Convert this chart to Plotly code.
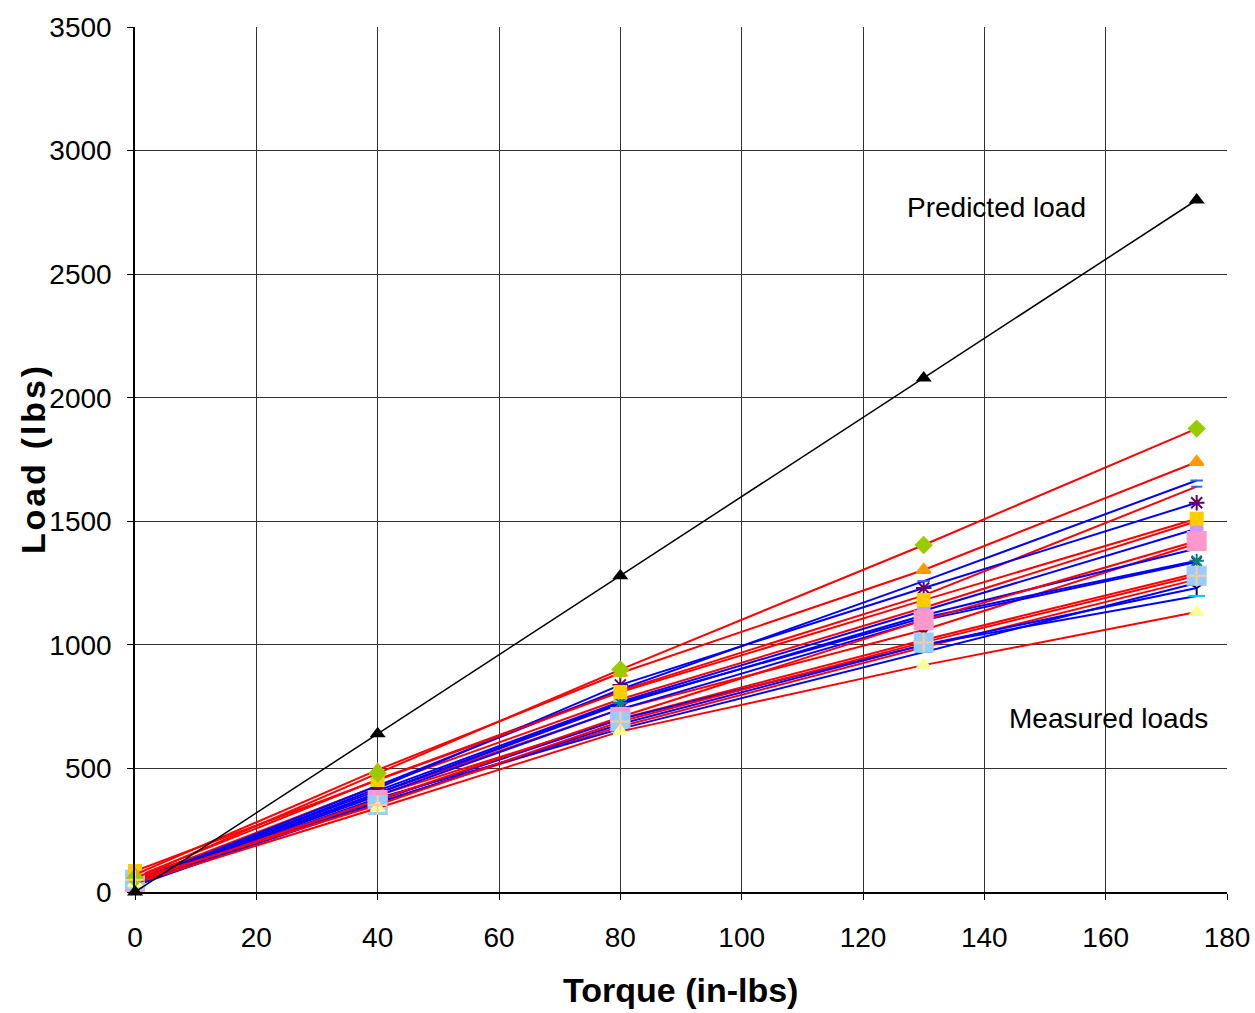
import plotly.graph_objects as go

torque = [0, 40, 80, 130, 175]
predicted = [0, 640, 1280, 2080, 2800]

# measured load series
m_green   = [55, 480, 900, 1404, 1875]
m_orange  = [70, 494, 886, 1303, 1740]
m_red3    = [60, 455, 815, 1200, 1640]
m_yellow  = [85, 453, 809, 1181, 1510]
m_magenta = [50, 430, 780, 1150, 1500]
m_pink    = [40, 372, 708, 1100, 1420]
m_darkred = [45, 400, 740, 1060, 1410]
m_red8    = [60, 390, 700, 1020, 1290]
m_ltblue  = [50, 352, 690, 1010, 1280]
m_red10   = [40, 362, 670, 990, 1265]
m_ltyel   = [35, 340, 650, 918, 1133]

b_blue    = [40, 430, 820, 1258, 1665]
b_purple  = [35, 420, 838, 1230, 1575]
b_3       = [45, 410, 770, 1140, 1470]
b_4       = [40, 400, 760, 1120, 1390]
b_teal    = [30, 400, 765, 1110, 1340]
b_6       = [35, 390, 740, 1100, 1335]
b_tealdash= [30, 380, 660, 971, 1250]
b_navy    = [25, 370, 700, 1000, 1230]
b_cyan    = [30, 360, 680, 1000, 1198]

series = [
    (m_red10, "red", "circle", "rgba(0,0,0,0)", 1),
    (m_red8, "red", "circle", "rgba(0,0,0,0)", 1),
    (m_darkred, "red", "triangle-down", "#800000", 9),
    (m_magenta, "red", "square", "#FF00FF", 10),
    (m_red3, "red", "line-ew", "#3366FF", 8),
    (b_3, "blue", "circle", "#CC99FF", 12),
    (b_4, "blue", "circle", "rgba(0,0,0,0)", 1),
    (b_6, "blue", "x-thin", "#660066", 10),
    (b_navy, "blue", "y-down-open", "#000080", 10),
    (b_cyan, "blue", "line-ew", "#00CCFF", 12),
    (b_tealdash, "blue", "line-ew", "#33CCCC", 12),
    (b_teal, "blue", "asterisk-open", "#008080", 12),
    (b_purple, "blue", "asterisk-open", "#660066", 13),
    (b_blue, "blue", "line-ew", "#3366FF", 9),
    (m_pink, "red", "square", "#FF99CC", 18),
    (m_ltblue, "red", "square", "#99CCFF", 18),
    (m_yellow, "red", "square", "#FFCC00", 12),
    (m_ltyel, "red", "triangle-up", "#FFFF99", 12),
    (m_orange, "red", "triangle-up", "#FF9900", 12),
    (m_green, "red", "diamond", "#99CC00", 12),
]

fig = go.Figure()
for vals, lc, sym, mc, ms in series:
    fig.add_trace(go.Scatter(
        x=torque, y=vals, mode="lines+markers",
        line=dict(color=lc, width=2),
        marker=dict(symbol=sym, color=mc, size=ms,
                    line=dict(color=mc, width=2)),
        showlegend=False, cliponaxis=False))

# plus on light-blue squares
fig.add_trace(go.Scatter(x=torque, y=m_ltblue, mode="markers",
                         marker=dict(symbol="cross-thin", size=14,
                                     line=dict(color="#FFCC99", width=2)),
                         showlegend=False, cliponaxis=False))

fig.add_trace(go.Scatter(
    x=torque, y=predicted, mode="lines+markers",
    line=dict(color="black", width=1.5),
    marker=dict(symbol="triangle-up", color="black", size=14),
    showlegend=False, cliponaxis=False))

font = "Liberation Sans Narrow, Liberation Sans, Arial"

W, H = 1255, 1013
L, R, T, B = 135, 28, 27, 121

fig.update_layout(
    width=W, height=H,
    margin=dict(l=L, r=R, t=T, b=B),
    paper_bgcolor="white", plot_bgcolor="white",
    font=dict(family=font, size=28, color="black"),
    xaxis=dict(range=[0, 180], dtick=20, showgrid=True, gridcolor="#333333",
               gridwidth=1, showline=True, linecolor="black", linewidth=1.5,
               ticks="outside", ticklen=6, tickcolor="black", zeroline=False,
               automargin=False, ticklabelstandoff=14),
    yaxis=dict(range=[0, 3500], dtick=500, showgrid=True, gridcolor="#333333",
               gridwidth=1, showline=True, linecolor="black", linewidth=1.5,
               ticks="outside", ticklen=6, tickcolor="black", zeroline=False,
               automargin=False, ticklabelstandoff=10),
    annotations=[
        dict(x=142, y=2768, xref="x", yref="y", text="Predicted load",
             showarrow=False, font=dict(size=28, family=font)),
        dict(x=160.5, y=704, xref="x", yref="y", text="Measured loads",
             showarrow=False, font=dict(size=28, family=font)),
        dict(x=680, y=990, xref="paper", yref="paper", text="<b>Torque (in-lbs)</b>",
             xanchor="center", yanchor="middle",
             showarrow=False, font=dict(size=34, family=font)),
        dict(x=33, y=460, xref="paper", yref="paper",
             text="<b>L\u200ao\u200aa\u200ad\u200a \u200a(\u200al\u200ab\u200as\u200a)</b>",
             xanchor="center", yanchor="middle",
             textangle=-90, showarrow=False,
             font=dict(size=34, family="Liberation Sans, Arial")),
    ],
)

# convert screen-pixel positions for axis-title annotations into paper coordinates
pw = W - L - R
ph = H - T - B
for a in fig.layout.annotations[2:]:
    px, py = a.x, a.y
    a.x = (px - L) / pw
    a.y = (H - B - py) / ph

fig.write_html("out.html", config={"displayModeBar": False},
               post_script="document.body.style.margin='0';document.body.style.overflow='hidden';")
